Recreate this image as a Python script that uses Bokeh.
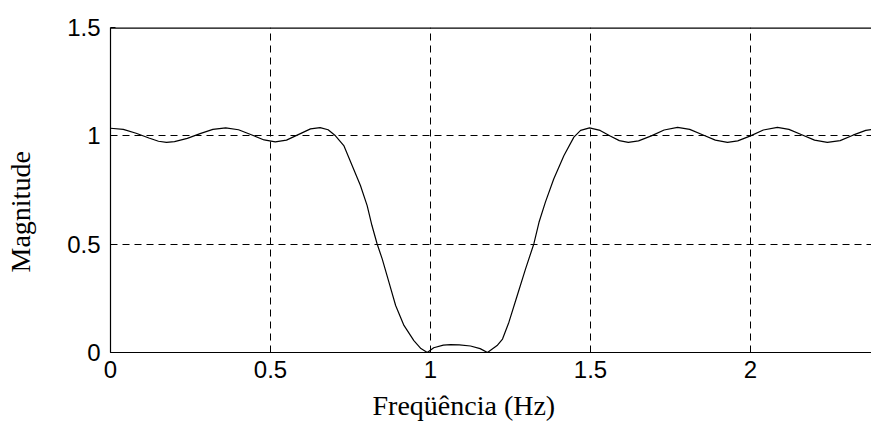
from bokeh.plotting import figure
from bokeh.models import Range1d, FixedTicker, Title, Span, LinearAxis
from bokeh.embed import file_html
from bokeh.resources import INLINE

# Frequency response
freq = [0.00, 0.04, 0.08, 0.12, 0.15, 0.175, 0.20, 0.24, 0.28, 0.32, 0.36, 0.40,
        0.44, 0.48, 0.515, 0.55, 0.59, 0.625, 0.655, 0.68, 0.703, 0.729, 0.755,
        0.781, 0.802, 0.817, 0.833, 0.849, 0.870, 0.891, 0.917, 0.948, 0.970,
        0.990, 1.010, 1.040, 1.0625, 1.09, 1.125, 1.155, 1.178, 1.208, 1.225,
        1.245, 1.271, 1.297, 1.323, 1.339, 1.359, 1.385, 1.417, 1.448, 1.469,
        1.497, 1.53, 1.56, 1.59, 1.618, 1.65, 1.69, 1.73, 1.772, 1.81, 1.85,
        1.89, 1.928, 1.96, 2.00, 2.04, 2.084, 2.12, 2.16, 2.20, 2.24, 2.28,
        2.32, 2.36, 2.38]
mag = [1.035, 1.030, 1.012, 0.990, 0.975, 0.970, 0.973, 0.988, 1.010, 1.030,
       1.037, 1.028, 1.005, 0.981, 0.972, 0.980, 1.008, 1.032, 1.038, 1.028,
       1.000, 0.955, 0.863, 0.771, 0.678, 0.586, 0.502, 0.432, 0.325, 0.217,
       0.125, 0.055, 0.018, 0.000, 0.022, 0.034, 0.036, 0.035, 0.030, 0.018,
       0.000, 0.032, 0.062, 0.140, 0.263, 0.386, 0.502, 0.601, 0.694, 0.801,
       0.909, 0.994, 1.025, 1.037, 1.025, 1.000, 0.978, 0.970, 0.977, 1.000,
       1.027, 1.039, 1.030, 1.005, 0.980, 0.970, 0.977, 1.000, 1.027, 1.039,
       1.030, 1.005, 0.980, 0.970, 0.978, 1.003, 1.025, 1.030]

x_ticks = [0, 0.5, 1, 1.5, 2]
x_tick_labels = ["0", "0.5", "1", "1.5", "2"]
y_ticks = [0, 0.5, 1, 1.5]
y_tick_labels = ["0", "0.5", "1", "1.5"]
x_title = "Freqüência (Hz)"
y_title = "Magnitude"

p = figure(width=871, height=428, output_backend="svg", toolbar_location=None,
           x_range=Range1d(0, 2.378), y_range=Range1d(0, 1.5),
           min_border_left=110, min_border_right=0, min_border_top=27,
           min_border_bottom=76)
p.outline_line_color = None
p.background_fill_color = "white"
p.border_fill_color = "white"

for g, t in ((p.xgrid[0], x_ticks), (p.ygrid[0], y_ticks)):
    g.ticker = FixedTicker(ticks=t)
    g.grid_line_color = "black"
    g.grid_line_width = 1
    g.grid_line_dash = "7 5"

p.line(freq, mag, line_color="black", line_width=1.2)

tick_font = "Liberation Sans"
for ax in (p.xaxis[0], p.yaxis[0]):
    ax.axis_line_color = "black"
    ax.axis_line_width = 1.2
    ax.major_tick_in = 5
    ax.major_tick_out = 0
    ax.minor_tick_line_color = None
    ax.major_tick_line_color = "black"
    ax.major_label_text_font = tick_font
    ax.major_label_text_font_size = "24px"
    ax.major_label_text_color = "black"

p.xaxis.ticker = FixedTicker(ticks=x_ticks)
p.xaxis.major_label_overrides = {t: l for t, l in zip(x_ticks, x_tick_labels)}
p.xaxis.major_label_standoff = 8
p.yaxis.ticker = FixedTicker(ticks=y_ticks)
p.yaxis.major_label_overrides = {t: l for t, l in zip(y_ticks, y_tick_labels)}
p.yaxis.major_label_standoff = 10

p.add_layout(Span(location=1.5, dimension="width", line_color="black", line_width=2.4))

# invisible spacer (white outward tick) between the y tick labels and the y title
spacer = LinearAxis(ticker=FixedTicker(ticks=[0.0]), major_tick_out=29, major_tick_in=0,
                    axis_line_color=None, major_tick_line_color="white",
                    minor_tick_line_color=None, major_label_text_font_size="1px",
                    major_label_text_alpha=0, major_label_standoff=0)
p.add_layout(spacer, "left")

p.add_layout(Title(text=x_title, align="left", offset=262, standoff=15,
                   text_font="Liberation Serif", text_font_size="28px",
                   text_font_style="normal", text_color="black"), "below")
p.add_layout(Title(text=y_title, align="left", offset=80, standoff=0,
                   text_font="Liberation Serif", text_font_size="28px",
                   text_font_style="normal", text_color="black"), "left")

open("out.html", "w").write(file_html(p, INLINE))
